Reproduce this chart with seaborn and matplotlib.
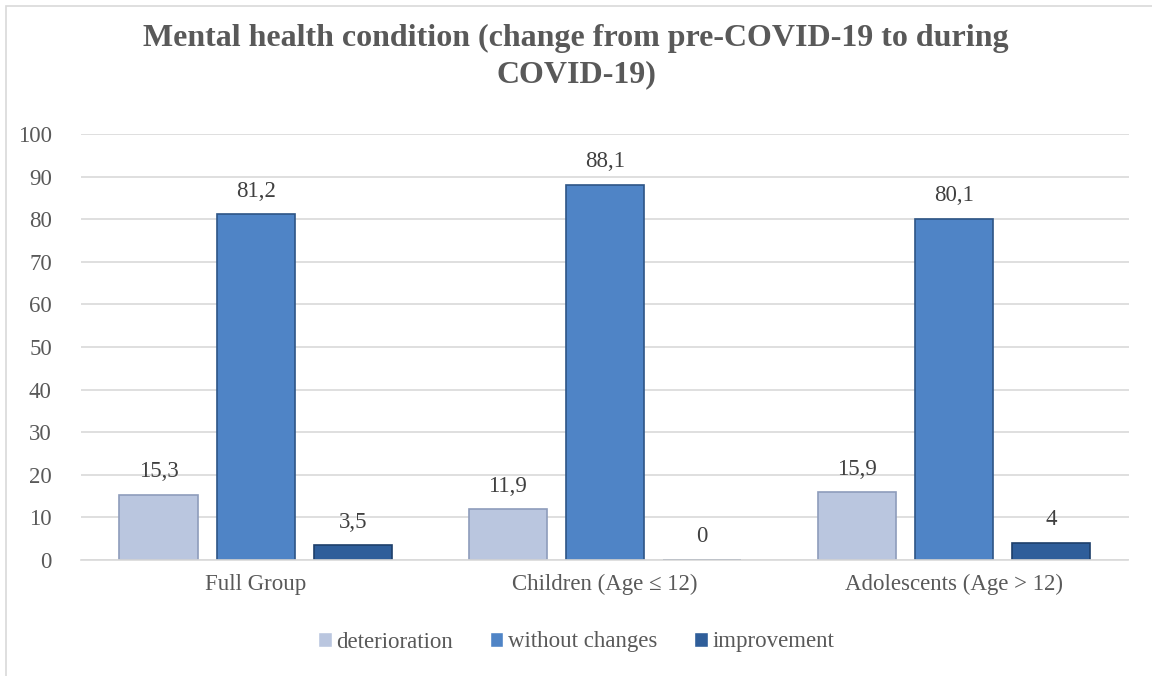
import matplotlib
matplotlib.use("Agg")
import matplotlib.pyplot as plt
import seaborn as sns
import pandas as pd

# data
groups = ["Full Group", "Children (Age \u2264 12)", "Adolescents (Age > 12)"]
series = ["deterioration", "without changes", "improvement"]
deterioration = [15.3, 11.9, 15.9]
without_changes = [81.2, 88.1, 80.1]
improvement = [3.5, 0, 4]

colors = ["#BAC6DF", "#4F84C6", "#2F5E9A"]
edges = ["#8E9CBB", "#2E5586", "#1E3F6B"]

rows = []
for name, vals in zip(series, [deterioration, without_changes, improvement]):
    for g, v in zip(groups, vals):
        rows.append({"group": g, "series": name, "value": v})
df = pd.DataFrame(rows)

sns.set_theme(style="white")
plt.rcParams["font.family"] = ["Liberation Serif", "DejaVu Serif"]

fig = plt.figure(figsize=(11.52, 6.76), dpi=100)
ax = fig.add_axes([81 / 1152, 1 - 560 / 676, (1128.5 - 81) / 1152, (560 - 134) / 676])

sns.barplot(data=df, x="group", y="value", hue="series", hue_order=series,
            order=groups, palette=colors, width=0.834, gap=0.196,
            saturation=1, ax=ax, legend=True)

for cont, ec in zip(ax.containers, edges):
    for bar in cont:
        bar.set_edgecolor(ec)
        bar.set_linewidth(1.2)
    labels = [("%g" % b.get_height()).replace(".", ",") for b in cont]
    ax.bar_label(cont, labels=labels, padding=9, fontsize=16.5, color="#404040")

ax.set_ylim(0, 100)
ax.set_yticks(range(0, 101, 10))
ax.yaxis.grid(True, color="#D9D9D9", linewidth=1.2)
ax.set_axisbelow(True)
ax.set_xlabel("")
ax.set_ylabel("")
for s in ["top", "right", "left"]:
    ax.spines[s].set_visible(False)
ax.spines["bottom"].set_color("#D9D9D9")
ax.spines["bottom"].set_linewidth(1.2)
ax.tick_params(axis="y", length=0, pad=21, labelsize=16.5, labelcolor="#595959")
ax.tick_params(axis="x", length=0, pad=10, labelsize=16.5, labelcolor="#595959")

handles, labs = ax.get_legend_handles_labels()
ax.legend_.remove()
fig.legend(handles, labs, loc="center", bbox_to_anchor=(0.5, 1 - 642 / 676),
           ncol=3, frameon=False, fontsize=16.5, labelcolor="#595959",
           handlelength=0.6, handleheight=0.6, handletextpad=0.2,
           columnspacing=1.6)

fig.text(0.5, 1 - 38 / 676, "Mental health condition (change from pre-COVID-19 to during",
         ha="center", va="center", fontsize=23, fontweight="bold", color="#595959")
fig.text(0.5, 1 - 75 / 676, "COVID-19)",
         ha="center", va="center", fontsize=23, fontweight="bold", color="#595959")

# light chart frame
fig.patches.append(plt.Rectangle((6 / 1152, -0.1), 1.2, 1 - 6 / 676 + 0.1,
                                 transform=fig.transFigure, fill=False,
                                 edgecolor="#D9D9D9", linewidth=1.2))

fig.savefig("out.png", dpi=100)
